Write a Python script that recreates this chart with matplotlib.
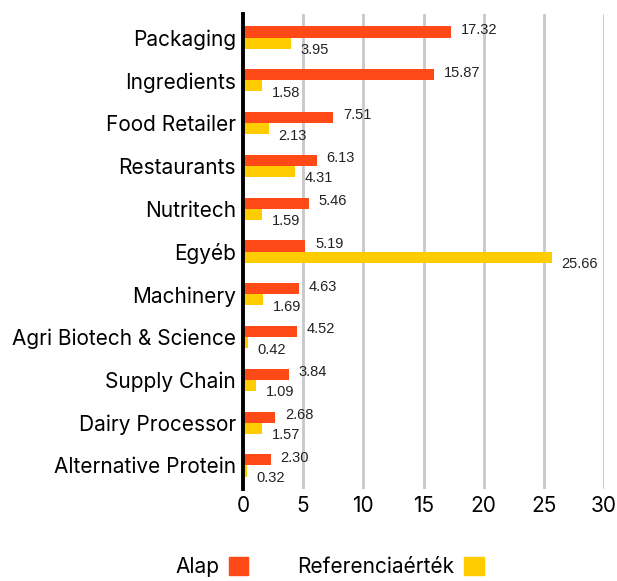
import numpy as np
import matplotlib.pyplot as plt
from matplotlib.patches import Patch

# data
categories = ["Packaging", "Ingredients", "Food Retailer", "Restaurants", "Nutritech",
              "Egyéb", "Machinery", "Agri Biotech & Science", "Supply Chain",
              "Dairy Processor", "Alternative Protein"]
alap = [17.32, 15.87, 7.51, 6.13, 5.46, 5.19, 4.63, 4.52, 3.84, 2.68, 2.30]
referencia = [3.95, 1.58, 2.13, 4.31, 1.59, 25.66, 1.69, 0.42, 1.09, 1.57, 0.32]
series_names = ["Alap", "Referenciaérték"]
xticks = [0, 5, 10, 15, 20, 25, 30]

c_alap = "#FF4A17"
c_ref = "#FFCC00"

plt.rcParams['font.family'] = ['Inter', 'DejaVu Sans']

fig = plt.figure(figsize=(6.17, 5.81), dpi=100)
ax = fig.add_axes([243 / 617, 1 - 489 / 581, (604 - 243) / 617, (489 - 14) / 581])

y = np.arange(len(categories))
h = 0.26
ax.barh(y - h / 2, alap, height=h, color=c_alap, zorder=3)
ax.barh(y + h / 2, referencia, height=h, color=c_ref, zorder=3)

for yi, v in zip(y, alap):
    ax.annotate(f"{v:.2f}", (v, yi - h / 2), xytext=(7, 1.5), textcoords="offset points",
                ha="left", va="center", fontsize=10.5, family="Liberation Sans", color="#222222")
for yi, v in zip(y, referencia):
    ax.annotate(f"{v:.2f}", (v, yi + h / 2), xytext=(7, -5), textcoords="offset points",
                ha="left", va="center", fontsize=10.5, family="Liberation Sans", color="#222222")

ax.set_xlim(0, 30)
ax.set_ylim(len(categories) - 0.45, -0.55)
ax.set_yticks(y)
ax.set_yticklabels(categories, fontsize=15)
ax.set_xticks(xticks)
ax.set_xticklabels([str(t) for t in xticks], fontsize=15)
ax.tick_params(axis="y", length=0, pad=5)
ax.tick_params(axis="x", length=0, pad=5)

for s in ["top", "right", "bottom"]:
    ax.spines[s].set_visible(False)
ax.spines["left"].set_linewidth(2.8)
ax.spines["left"].set_color("black")
ax.spines["left"].set_zorder(5)

for t in xticks[1:]:
    ax.axvline(t, color="#C8C8C8", linewidth=2, zorder=1)

handles = [Patch(color=c_alap, label=series_names[0]), Patch(color=c_ref, label=series_names[1])]
fig.legend(handles=handles, loc="center", bbox_to_anchor=(0.534, 1 - 567 / 581), ncol=2,
           frameon=False, markerfirst=False, fontsize=15, handlelength=0.95, handleheight=0.95,
           columnspacing=2.35, handletextpad=0.45)

fig.savefig("out.png", dpi=100)
